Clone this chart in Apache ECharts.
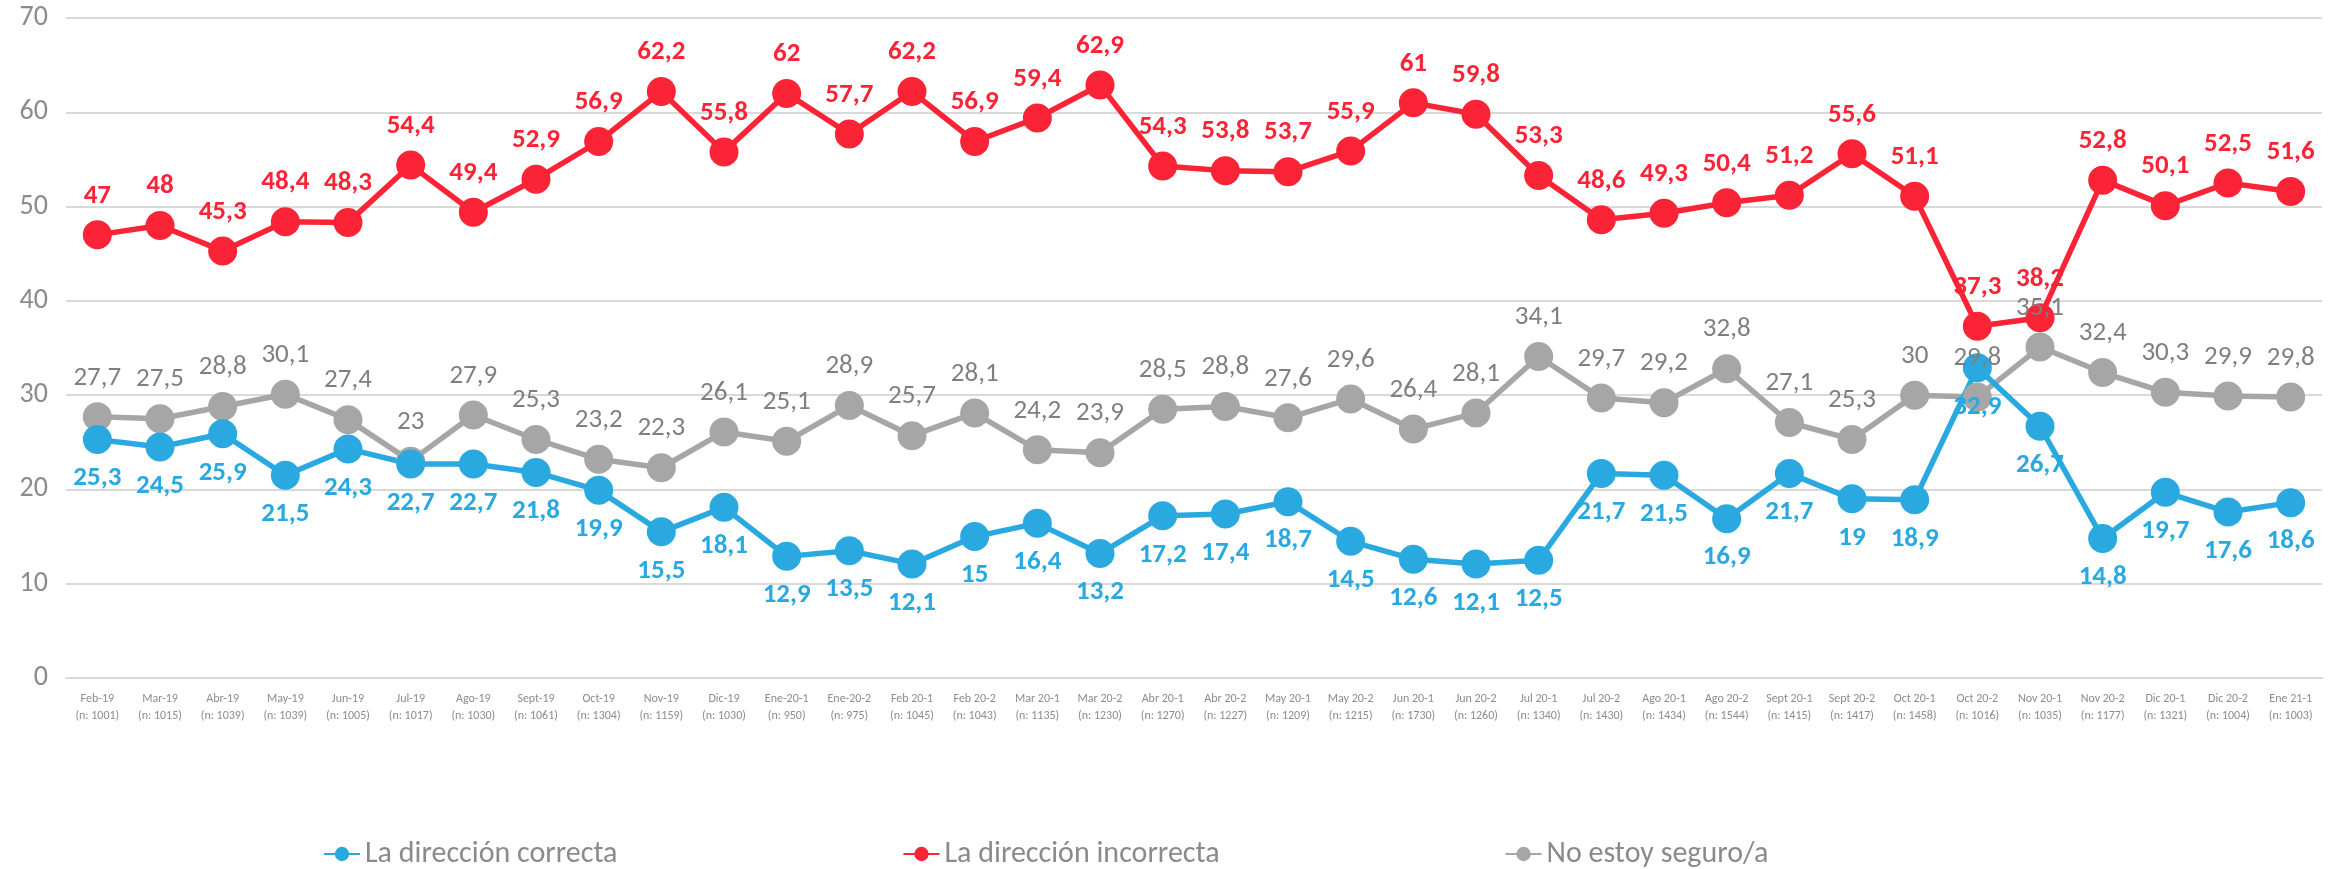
<!DOCTYPE html>
<html>
<head>
<meta charset="utf-8">
<script src="https://cdn.jsdelivr.net/npm/echarts@6/dist/echarts.min.js"></script>
<style>
  html, body { margin: 0; padding: 0; background: #fff; }
  #chart { width: 2351px; height: 869px; }
</style>
</head>
<body>
<div id="chart"></div>
<script>
var periods = ['Feb-19', 'Mar-19', 'Abr-19', 'May-19', 'Jun-19', 'Jul-19', 'Ago-19', 'Sept-19', 'Oct-19', 'Nov-19', 'Dic-19',
    'Ene-20-1', 'Ene-20-2', 'Feb 20-1', 'Feb 20-2', 'Mar 20-1', 'Mar 20-2', 'Abr 20-1', 'Abr 20-2', 'May 20-1', 'May 20-2',
    'Jun 20-1', 'Jun 20-2', 'Jul 20-1', 'Jul 20-2', 'Ago 20-1', 'Ago 20-2', 'Sept 20-1', 'Sept 20-2', 'Oct 20-1', 'Oct 20-2',
    'Nov 20-1', 'Nov 20-2', 'Dic 20-1', 'Dic 20-2', 'Ene 21-1'];
var sampleSizes = [1001, 1015, 1039, 1039, 1005, 1017, 1030, 1061, 1304, 1159, 1030,
    950, 975, 1045, 1043, 1135, 1230, 1270, 1227, 1209, 1215,
    1730, 1260, 1340, 1430, 1434, 1544, 1415, 1417, 1458, 1016,
    1035, 1177, 1321, 1004, 1003];

var correcta = [25.3, 24.5, 25.9, 21.5, 24.3, 22.7, 22.7, 21.8, 19.9, 15.5, 18.1,
    12.9, 13.5, 12.1, 15, 16.4, 13.2, 17.2, 17.4, 18.7, 14.5,
    12.6, 12.1, 12.5, 21.7, 21.5, 16.9, 21.7, 19, 18.9, 32.9,
    26.7, 14.8, 19.7, 17.6, 18.6];
var incorrecta = [47, 48, 45.3, 48.4, 48.3, 54.4, 49.4, 52.9, 56.9, 62.2, 55.8,
    62, 57.7, 62.2, 56.9, 59.4, 62.9, 54.3, 53.8, 53.7, 55.9,
    61, 59.8, 53.3, 48.6, 49.3, 50.4, 51.2, 55.6, 51.1, 37.3,
    38.2, 52.8, 50.1, 52.5, 51.6];
var noSeguro = [27.7, 27.5, 28.8, 30.1, 27.4, 23, 27.9, 25.3, 23.2, 22.3, 26.1,
    25.1, 28.9, 25.7, 28.1, 24.2, 23.9, 28.5, 28.8, 27.6, 29.6,
    26.4, 28.1, 34.1, 29.7, 29.2, 32.8, 27.1, 25.3, 30, 29.8,
    35.1, 32.4, 30.3, 29.9, 29.8];

var yTicks = [0, 10, 20, 30, 40, 50, 60, 70];

var FONT = 'Carlito, "Liberation Sans Narrow", "Open Sans", sans-serif';
var BLUE = '#29a9e0', RED = '#fa2436', GREY = '#a6a6a6';

var categories = periods.map(function (p, i) {
    return p + '\n(n: ' + sampleSizes[i] + ')';
});

function comma(p) {
    return String(p.value).replace('.', ',');
}

function lineSeries(name, data, color, labelColor, bold, pos) {
    return {
        name: name,
        type: 'line',
        data: data,
        symbol: 'circle',
        symbolSize: 29,
        lineStyle: {color: color, width: 5.5},
        itemStyle: {color: color},
        label: {
            show: true,
            position: pos,
            distance: 11,
            color: labelColor,
            fontFamily: FONT,
            fontSize: 27,
            fontWeight: bold ? 'bold' : 'normal',
            formatter: comma
        },
        emphasis: {disabled: true},
        animation: false
    };
}

var chart = echarts.init(document.getElementById('chart'));
var option = {
    backgroundColor: '#fff',
    grid: {left: 66, right: 29, top: 18, bottom: 191},
    legend: {
        left: 318,
        top: 834,
        itemGap: 285,
        itemWidth: 36,
        itemHeight: 18,
        textStyle: {color: '#8a8a8a', fontFamily: FONT, fontSize: 30},
        data: ['La dirección correcta', 'La dirección incorrecta', 'No estoy seguro/a']
    },
    xAxis: {
        type: 'category',
        data: categories,
        axisLine: {lineStyle: {color: '#d9d9d9', width: 2}},
        axisTick: {show: false},
        axisLabel: {
            interval: 0,
            margin: 12,
            color: '#8c8c8c',
            fontFamily: FONT,
            fontSize: 12,
            lineHeight: 17
        }
    },
    yAxis: {
        type: 'value',
        min: yTicks[0],
        max: yTicks[yTicks.length - 1],
        interval: 10,
        axisLine: {show: false},
        axisTick: {show: false},
        splitLine: {lineStyle: {color: '#d9d9d9', width: 2}},
        axisLabel: {color: '#8c8c8c', fontFamily: FONT, fontSize: 28, margin: 18}
    },
    series: [
        lineSeries('No estoy seguro/a', noSeguro, GREY, '#7f7f7f', false, 'top'),
        lineSeries('La dirección correcta', correcta, BLUE, BLUE, true, 'bottom'),
        lineSeries('La dirección incorrecta', incorrecta, RED, RED, true, 'top')
    ]
};
chart.setOption(option);
</script>
</body>
</html>
